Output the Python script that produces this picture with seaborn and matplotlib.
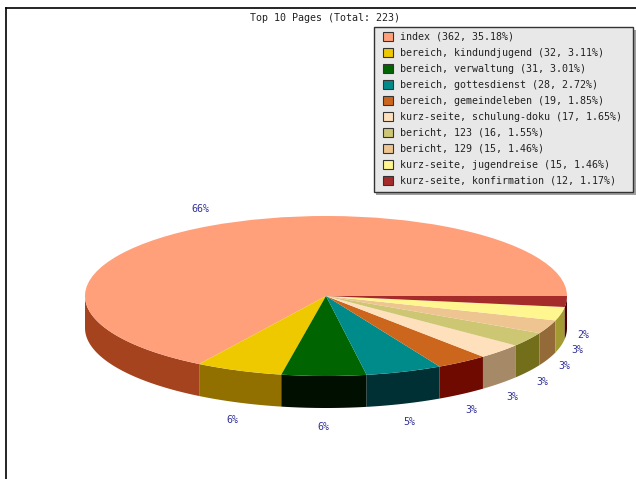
# Top 10 Pages - 3D-Kuchen mit seaborn/matplotlib
import numpy as np
import matplotlib
matplotlib.use("Agg")
import matplotlib.pyplot as plt
from matplotlib.patches import Patch, Rectangle
import seaborn as sns

pages = ["index", "bereich, kindundjugend", "bereich, verwaltung", "bereich, gottesdienst",
         "bereich, gemeindeleben", "kurz-seite, schulung-doku", "bericht, 123", "bericht, 129",
         "kurz-seite, jugendreise", "kurz-seite, konfirmation"]
hits = [362, 32, 31, 28, 19, 17, 16, 15, 15, 12]
shares = [35.18, 3.11, 3.01, 2.72, 1.85, 1.65, 1.55, 1.46, 1.46, 1.17]
pie_labels = ["66%", "6%", "6%", "5%", "3%", "3%", "3%", "3%", "3%", "2%"]
top_colors = ["#FFA07A", "#EEC900", "#006400", "#008B8B", "#CD661D",
              "#FFE0BC", "#CDC673", "#EEC591", "#FFF68F", "#A52A2A"]
side_colors = ["#A5431E", "#917000", "#000F00", "#003033", "#6E0A00",
               "#A68A68", "#736E1A", "#936A38", "#A39B32", "#4A0000"]

W, H = 636, 479
CX, CY, RX, RY, DEPTH = 326, 296, 241, 80, 32
depth = DEPTH / RY

sns.set_theme(style="white")
plt.rcParams["font.family"] = ["DejaVu Sans Mono"]
plt.rcParams["axes.edgecolor"] = "black"

fig = plt.figure(figsize=(W / 100, H / 100), dpi=100)
ax = fig.add_axes([5.5 / W, 0, 1 - 5.5 / W, (H - 7.5) / H])

# Deckel
wedges, _ = ax.pie(hits, colors=top_colors, startangle=0, counterclock=True,
                   radius=1, frame=True, wedgeprops={"linewidth": 0, "zorder": 3})
ax.set_aspect("auto")
ax.set_xlim((5.5 - CX) / RX, (W - CX) / RX)
ax.set_ylim((CY - H) / RY, (CY - 7.5) / RY)
ax.set_xticks([])
ax.set_yticks([])
sns.despine(ax=ax, top=False, right=True, left=False, bottom=True)
for s in ["left", "top"]:
    ax.spines[s].set_linewidth(1.2)

# Seitenwaende + Prozentlabels
edges = np.concatenate([[0], np.cumsum(hits)]) / np.sum(hits) * 360
for i in range(len(hits)):
    a, b = edges[i], edges[i + 1]
    lo, hi = max(a, 180), b
    if hi > lo:
        t = np.radians(np.linspace(lo, hi, 60))
        xs = np.concatenate([np.cos(t), np.cos(t)[::-1]])
        ys = np.concatenate([np.sin(t), np.sin(t)[::-1] - depth])
        ax.fill(xs, ys, color=side_colors[i], lw=0, zorder=2)
    mid = np.radians((a + b) / 2)
    ly = 1.24 * np.sin(mid)
    if np.sin(mid) < 0:
        ly -= depth
    ax.text(1.07 * np.cos(mid), ly, pie_labels[i], color="#333399", fontsize=7.2,
            ha="center", va="center", zorder=4)

fig.text(325.5 / W, 1 - 18 / H, "Top 10 Pages (Total: 223)", ha="center", va="center",
         fontsize=7.2, color="#222222")

# Legendenkasten mit Schatten, Legende selbst ohne Rahmen
def box(x0, y0, x1, y1, **kw):
    r = Rectangle((x0 / W, 1 - y1 / H), (x1 - x0) / W, (y1 - y0) / H,
                  transform=fig.transFigure, **kw)
    fig.add_artist(r)

box(376, 30, 636, 195, facecolor="#A0A0A0", edgecolor="none", zorder=3)
box(373.5, 27.5, 632.5, 191.5, facecolor="#E8E8E8", edgecolor="#333333", linewidth=1, zorder=4)

handles = [Patch(facecolor=c, edgecolor="#333333", linewidth=0.8) for c in top_colors]
labels = [f"{p} ({h}, {s:.2f}%)" for p, h, s in zip(pages, hits, shares)]
leg = fig.legend(handles, labels, loc="upper left", bbox_to_anchor=(383 / W, 1 - 31.5 / H),
                 bbox_transform=fig.transFigure, borderaxespad=0, borderpad=0, fontsize=7.2,
                 frameon=False, handlelength=1.0, handleheight=1.0, handletextpad=0.7,
                 labelspacing=0.6, labelcolor="#222222")
leg.set_zorder(5)

fig.savefig("out.png", dpi=100)
plt.close("all")
